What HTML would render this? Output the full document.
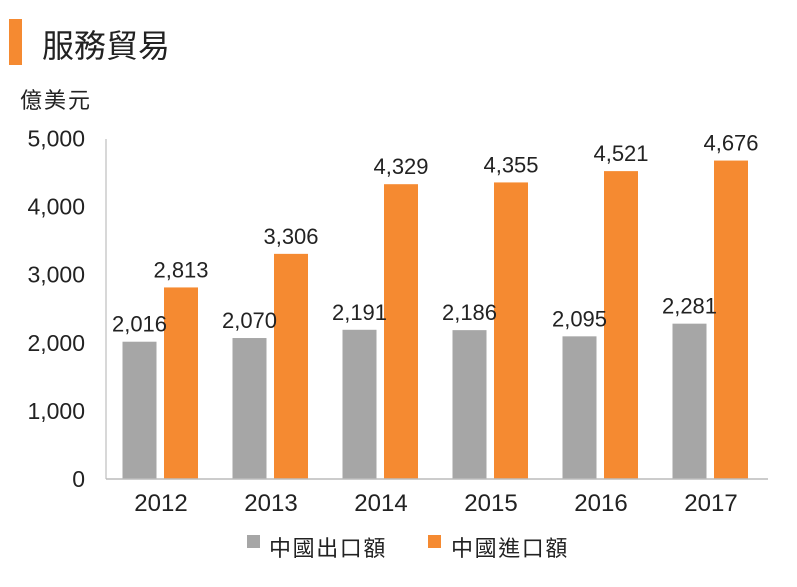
<!DOCTYPE html>
<html><head><meta charset="utf-8"><style>
body{margin:0;background:#fff;}
svg{display:block;font-family:"Liberation Sans","Noto Sans CJK TC",sans-serif;}
</style></head><body>
<svg id="chart" width="797" height="587">
<rect x="9" y="19" width="13" height="46" fill="#f58a31"/>
<text x="42" y="57" font-size="32" fill="#222">服務貿易</text>
<text x="20" y="108" font-size="22" letter-spacing="2" fill="#222">億美元</text>
<g id="yticks"></g>
<g id="bars"></g>
<line x1="106" y1="139" x2="106" y2="479" stroke="#ccc" stroke-width="1.5"/>
<line x1="106" y1="479" x2="768" y2="479" stroke="#bbb" stroke-width="1.5"/>
<g id="xlabels"></g>
<g>
<rect x="247" y="535" width="13" height="13" fill="#a6a6a6"/>
<text x="269" y="556" font-size="22" letter-spacing="1.6" fill="#222">中國出口額</text>
<rect x="428" y="535" width="13" height="13" fill="#f58a31"/>
<text x="451" y="556" font-size="22" letter-spacing="1.6" fill="#222">中國進口額</text>
</g>
</svg>
<script>
const categories=["2012","2013","2014","2015","2016","2017"];
const exportsVals=[2016,2070,2191,2186,2095,2281];
const importsVals=[2813,3306,4329,4355,4521,4676];
const yTicks=[0,1000,2000,3000,4000,5000];
const yMax=5000;
const NS="http://www.w3.org/2000/svg";
const x0=106,band=110,y0=479,yTop=138.5;
function y(v){return y0-(v/yMax)*(y0-yTop);}
function bandX(i){return x0+i*band;}
function mk(tag,attrs,parent,txt){const e=document.createElementNS(NS,tag);for(const k in attrs)e.setAttribute(k,attrs[k]);if(txt!==undefined)e.textContent=txt;parent.appendChild(e);return e;}
const fmt=v=>v.toLocaleString("en-US");
const yt=document.getElementById("yticks");
yTicks.forEach(t=>{
  const e=mk("text",{x:85,y:y(t)+8,"font-size":23,"text-anchor":"end",fill:"#222"},yt,fmt(t));
  
  
});
const bg=document.getElementById("bars");
const xl=document.getElementById("xlabels");
categories.forEach((c,i)=>{
  const bx=bandX(i);
  const gx=bx+16.5, ox=bx+58, w=34;
  const g=mk("rect",{x:gx,y:y(exportsVals[i]),width:w,height:y0-y(exportsVals[i]),fill:"#a6a6a6"},bg);
  
  
  const o=mk("rect",{x:ox,y:y(importsVals[i]),width:w,height:y0-y(importsVals[i]),fill:"#f58a31"},bg);
  
  
  const gl=mk("text",{x:gx+w/2,y:y(exportsVals[i])-10,"font-size":22,"text-anchor":"middle",fill:"#222"},bg,fmt(exportsVals[i]));
  
  
  const ol=mk("text",{x:ox+w/2,y:y(importsVals[i])-10,"font-size":22,"text-anchor":"middle",fill:"#222"},bg,fmt(importsVals[i]));
  
  
  const xt=mk("text",{x:bx+55,y:511,"font-size":24,"text-anchor":"middle",fill:"#222"},xl,c);
  
  
});
</script>
</body></html>
